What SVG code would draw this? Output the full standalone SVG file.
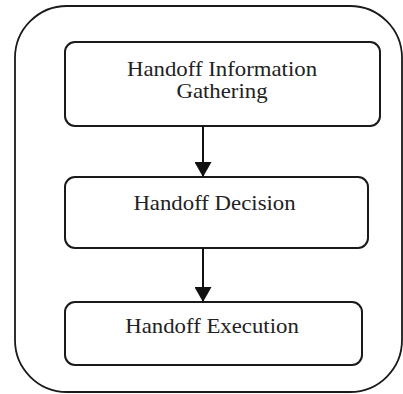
<svg xmlns="http://www.w3.org/2000/svg" width="403" height="394" viewBox="0 0 403 394">
  <defs>
    <marker id="arrow" viewBox="0 0 15 17" refX="15" refY="8.5" markerWidth="15" markerHeight="17" markerUnits="userSpaceOnUse" orient="auto">
      <path d="M0,0 L15,8.5 L0,17 Z" fill="#111"/>
    </marker>
  </defs>
  <style>
    .frame { fill: #fff; stroke: #1a1a1a; stroke-width: 1.8; }
    .box { fill: #fff; stroke: #1a1a1a; stroke-width: 2; }
    .label { font-family: 'Liberation Serif', serif; font-size: 20px; fill: #222; text-anchor: middle; }
    .link { stroke: #111; stroke-width: 2; fill: none; }
  </style>
  <rect width="403" height="394" fill="#fff"/>

  <!-- outer container -->
  <rect id="container" class="frame" x="15" y="6" width="387" height="386" rx="52" ry="52"/>

  <!-- labels are set in a slightly widened serif -->
  <g id="info-gathering">
    <rect class="box" x="65" y="42" width="315" height="84" rx="10"/>
    <g transform="translate(222,0) scale(1.14,1)">
      <text class="label" x="0" y="76">Handoff Information</text>
      <text class="label" x="0" y="98.5">Gathering</text>
    </g>
  </g>

  <g id="decision">
    <rect class="box" x="65" y="177" width="303" height="71" rx="10"/>
    <g transform="translate(214.5,0) scale(1.14,1)">
      <text class="label" x="0" y="210.5">Handoff Decision</text>
    </g>
  </g>

  <g id="execution">
    <rect class="box" x="65" y="302" width="297" height="63" rx="10"/>
    <g transform="translate(212,0) scale(1.14,1)">
      <text class="label" x="0" y="333.5">Handoff Execution</text>
    </g>
  </g>

  <g id="connectors">
    <line class="link" x1="203" y1="126" x2="203" y2="177" marker-end="url(#arrow)"/>
    <line class="link" x1="203" y1="248" x2="203" y2="302" marker-end="url(#arrow)"/>
  </g>
</svg>
